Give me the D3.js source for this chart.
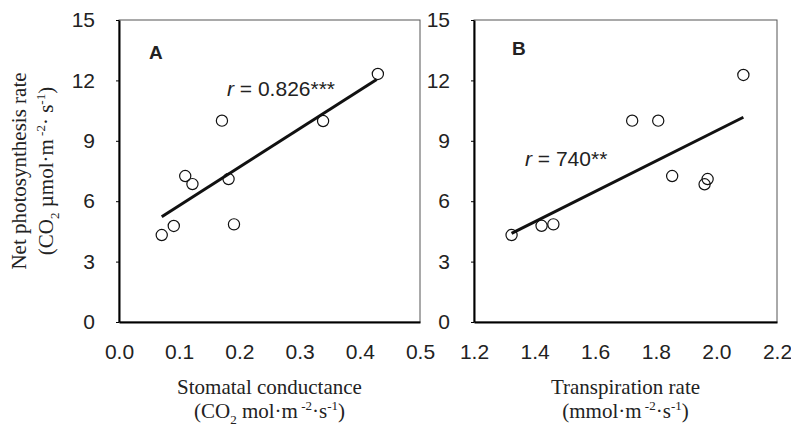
<!DOCTYPE html>
<html>
<head>
<meta charset="utf-8">
<script src="https://cdn.jsdelivr.net/npm/d3@7"></script>
<style>
  body { margin: 0; background: #fff; }
  svg { display: block; }
</style>
</head>
<body>
<div id="chart"></div>
<script>
// values (same 9 samples in both panels)
const gsValues = [0.430, 0.339, 0.171, 0.110, 0.122, 0.182, 0.071, 0.091, 0.191];
const pnValuesA = [12.32, 9.98, 10.0, 7.25, 6.85, 7.10, 4.32, 4.77, 4.85];
const trValues = [2.089, 1.722, 1.808, 1.854, 1.971, 1.961, 1.324, 1.423, 1.462];
const pnValuesB = [12.27, 10.0, 10.0, 7.25, 7.10, 6.84, 4.32, 4.78, 4.85];

// regression line ends as drawn
const fitAx = [0.071, 0.428], fitAy = [5.23, 12.05];
const fitBx = [1.324, 2.089], fitBy = [4.40, 10.17];

const yTicks = [0, 3, 6, 9, 12, 15];
const xTicksA = [0.0, 0.1, 0.2, 0.3, 0.4, 0.5];
const xTicksB = [1.2, 1.4, 1.6, 1.8, 2.0, 2.2];

const width = 791, height = 426;
const plotTop = 20, plotBottom = 322;
const sans = "'Liberation Sans', Arial, sans-serif";
const serif = "'Liberation Serif', 'Times New Roman', serif";

const svg = d3.select("#chart").append("svg")
  .attr("width", width)
  .attr("height", height);

const yScale = d3.scaleLinear().domain([0, 15]).range([plotBottom, plotTop]);

// writes text with sub/superscript pieces
function richText(sel, parts, size) {
  let shift = 0;
  parts.forEach(p => {
    let target = 0;
    if (p.sub) target = size * 0.3;
    if (p.sup) target = -size * 0.4;
    sel.append("tspan")
      .attr("dy", target - shift)
      .style("font-size", (p.sub || p.sup) ? (size * 0.62) + "px" : size + "px")
      .text(p.t);
    shift = target;
  });
}

function panel(opt) {
  const xScale = d3.scaleLinear().domain(opt.domain).range([opt.left, opt.right]);
  const g = svg.append("g");

  // thin frame
  g.append("rect")
    .attr("x", opt.left).attr("y", plotTop)
    .attr("width", opt.right - opt.left).attr("height", plotBottom - plotTop)
    .attr("fill", "none").attr("stroke", "#555").attr("stroke-width", 1);

  // y axis
  const ya = g.append("g")
    .attr("transform", `translate(${opt.left},0)`)
    .call(d3.axisLeft(yScale).tickValues(yTicks).tickSize(3).tickSizeOuter(0).tickPadding(21));
  ya.select(".domain").attr("stroke", "#000").attr("stroke-width", 2);
  ya.selectAll(".tick line").attr("stroke", "#000");
  ya.selectAll("text").style("font-family", sans).style("font-size", "21px").attr("fill", "#222");

  // x axis
  const xa = g.append("g")
    .attr("transform", `translate(0,${plotBottom})`)
    .call(d3.axisBottom(xScale).tickValues(opt.xTicks).tickFormat(d3.format(".1f")).tickSize(0).tickPadding(22));
  xa.select(".domain").attr("stroke", "#000").attr("stroke-width", 2.2);
  xa.selectAll("text").style("font-family", sans).style("font-size", "21px").attr("fill", "#222");

  // fit line
  g.append("path")
    .datum(d3.zip(opt.fitX, opt.fitY))
    .attr("d", d3.line().x(d => xScale(d[0])).y(d => yScale(d[1])))
    .attr("stroke", "#111").attr("stroke-width", 3).attr("fill", "none");

  // points
  g.selectAll("circle")
    .data(d3.zip(opt.xs, opt.ys))
    .join("circle")
    .attr("cx", d => xScale(d[0]))
    .attr("cy", d => yScale(d[1]))
    .attr("r", 5.6)
    .attr("fill", "none")
    .attr("stroke", "#111")
    .attr("stroke-width", 1.2);

  // panel letter
  g.append("text")
    .attr("x", opt.letterPos[0]).attr("y", opt.letterPos[1])
    .style("font-family", sans).style("font-size", "19px").style("font-weight", "bold")
    .attr("fill", "#222")
    .text(opt.letter);

  // r annotation
  const rt = g.append("text")
    .attr("x", opt.rPos[0]).attr("y", opt.rPos[1])
    .style("font-family", sans).style("font-size", "21px").attr("fill", "#222");
  rt.append("tspan").style("font-style", "italic").text("r");
  rt.append("tspan").text(opt.rText);

  // x title
  const cx = (opt.left + opt.right) / 2;
  g.append("text")
    .attr("x", cx).attr("y", 394)
    .attr("text-anchor", "middle")
    .style("font-family", serif).style("font-size", "21px").attr("fill", "#222")
    .text(opt.title);
  const t2 = g.append("text")
    .attr("x", cx).attr("y", 418)
    .attr("text-anchor", "middle")
    .style("font-family", serif).attr("fill", "#222");
  richText(t2, opt.unit, 21);
}

panel({
  left: 119, right: 420, domain: [0, 0.5], xTicks: xTicksA,
  xs: gsValues, ys: pnValuesA, fitX: fitAx, fitY: fitAy,
  letter: "A", letterPos: [149, 59],
  rText: " = 0.826***", rPos: [227, 96],
  title: "Stomatal conductance",
  unit: [{ t: "(CO" }, { t: "2", sub: true }, { t: " mol\u00b7m" }, { t: " -2", sup: true }, { t: "\u00b7s" }, { t: "-1", sup: true }, { t: ")" }]
});

panel({
  left: 474, right: 777, domain: [1.2, 2.2], xTicks: xTicksB,
  xs: trValues, ys: pnValuesB, fitX: fitBx, fitY: fitBy,
  letter: "B", letterPos: [512, 55],
  rText: " = 740**", rPos: [525, 166],
  title: "Transpiration rate",
  unit: [{ t: "(mmol\u00b7m" }, { t: " -2", sup: true }, { t: "\u00b7s" }, { t: "-1", sup: true }, { t: ")" }]
});

// shared y title
const yMid = (plotTop + plotBottom) / 2;
svg.append("text")
  .attr("transform", `translate(26,${yMid}) rotate(-90)`)
  .attr("text-anchor", "middle")
  .style("font-family", serif).style("font-size", "21px").attr("fill", "#222")
  .text("Net photosynthesis rate");
const yt2 = svg.append("text")
  .attr("transform", `translate(53,${yMid}) rotate(-90)`)
  .attr("text-anchor", "middle")
  .style("font-family", serif).attr("fill", "#222");
richText(yt2, [{ t: "(CO" }, { t: "2", sub: true }, { t: " \u00b5mol\u00b7m" }, { t: " -2", sup: true }, { t: "\u00b7 s" }, { t: "-1", sup: true }, { t: ")" }], 21);
</script>
</body>
</html>
